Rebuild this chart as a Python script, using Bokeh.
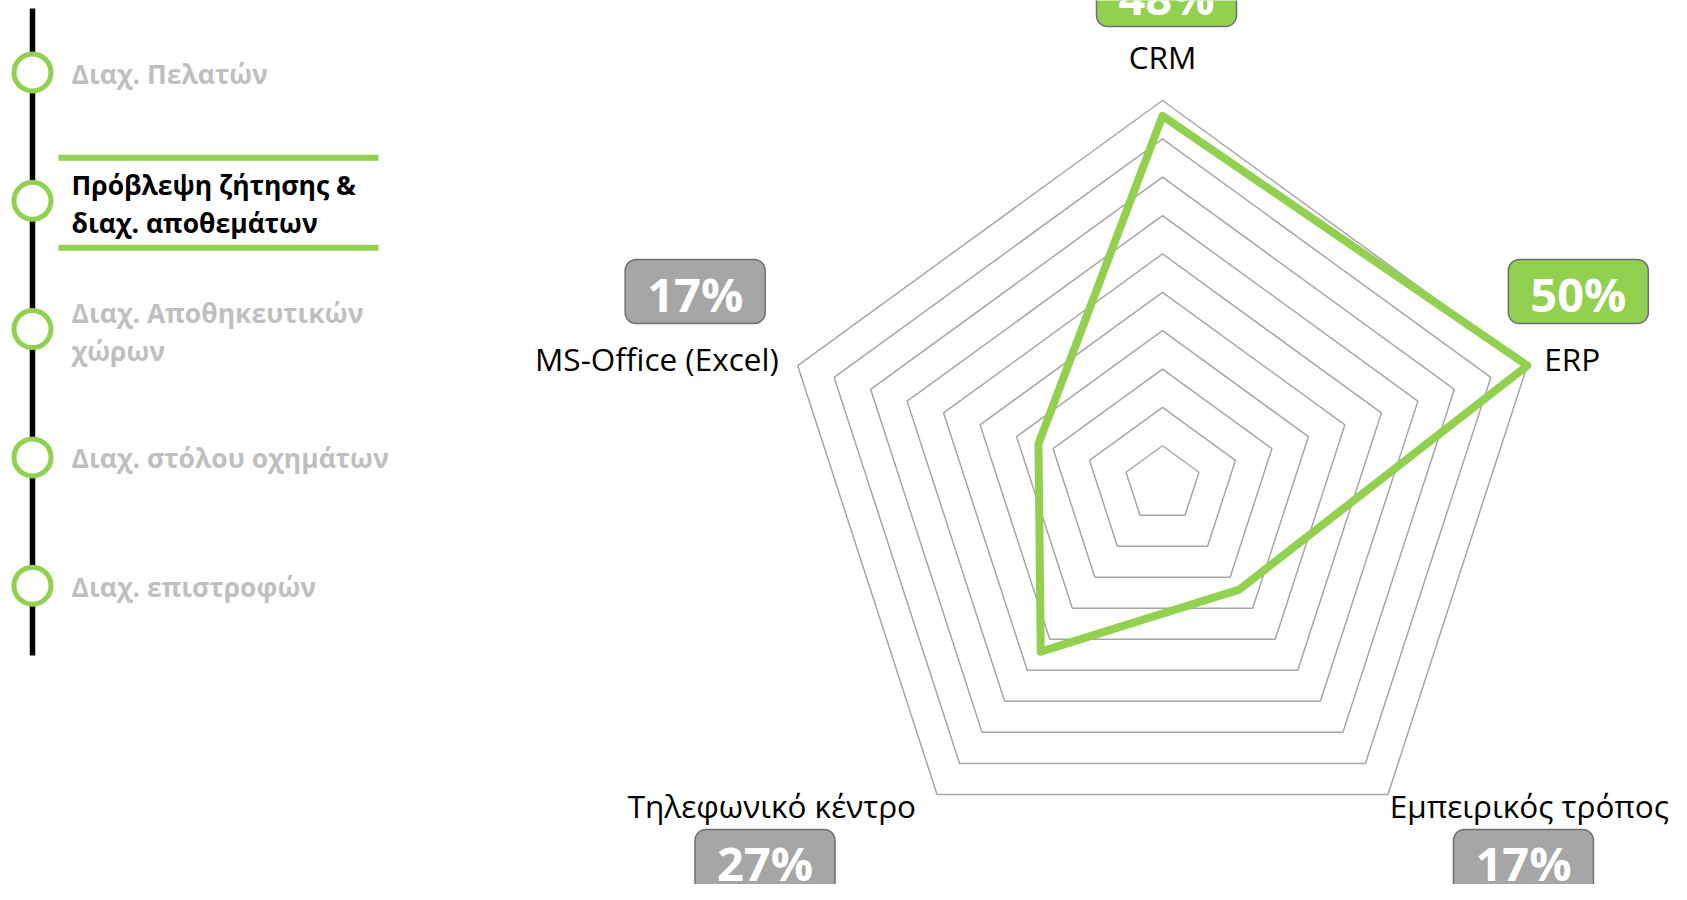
import math
from bokeh.plotting import figure
from bokeh.models import Range1d
from bokeh.core.properties import value
from bokeh.embed import file_html
from bokeh.resources import INLINE

# ---------------- data ----------------
categories = ["CRM", "ERP", "Εμπειρικός τρόπος", "Τηλεφωνικό κέντρο", "MS-Office (Excel)"]
values = [48, 50, 17, 27, 17]
value_labels = ["48%", "50%", "17%", "27%", "17%"]
highlight = [True, True, False, False, False]
grid_levels = [5, 10, 15, 20, 25, 30, 35, 40, 45, 50]
scale_max = 50

menu_items = [
    ["Διαχ. Πελατών"],
    ["Πρόβλεψη ζήτησης &", "διαχ. αποθεμάτων"],
    ["Διαχ. Αποθηκευτικών", "χώρων"],
    ["Διαχ. στόλου οχημάτων"],
    ["Διαχ. επιστροφών"],
]
selected_item = 1

# ---------------- layout / style ----------------
GREEN = "#92d050"
GRAY_FILL = "#a6a6a6"
GRID = "#a6a6a6"
FONT = value("Open Sans")

cx, cy, R = 1162.0, 483.6, 383.6
# label anchor offsets from each vertex, alignment
label_off = [(0, -44, "center"), (17, -7, "left"), (281, 11, "right"), (-21, 11, "right"), (-19, -7, "right")]
# value box centre offsets from each vertex
box_off = [(4, -106), (51, -74), (135.5, 67), (-172, 67), (-102.5, -74)]
BOX_W, BOX_H, BOX_R = 140, 64, 11

menu_x_line = 32
menu_first_y, menu_step = 72, 128.3
menu_text_x = 71

p = figure(width=1671, height=884, x_range=Range1d(0, 1671), y_range=Range1d(884, 0),
           output_backend="svg", toolbar_location=None, min_border=0,
           x_axis_type=None, y_axis_type=None)
p.grid.visible = False
p.outline_line_color = None
p.background_fill_color = "white"
p.border_fill_color = "white"

n = len(categories)
angles = [math.pi / 2 - i * 2 * math.pi / n for i in range(n)]


def polar(r_val, ang):
    r = R * r_val / scale_max
    return cx + r * math.cos(ang), cy - r * math.sin(ang)


# grid rings
gx, gy = [], []
for lv in grid_levels:
    pts = [polar(lv, a) for a in angles]
    gx.append([q[0] for q in pts])
    gy.append([q[1] for q in pts])
p.patches(gx, gy, fill_color=None, line_color=GRID, line_width=1.5)

# data polygon
dp = [polar(v, a) for v, a in zip(values, angles)]
p.patch([q[0] for q in dp], [q[1] for q in dp], fill_color=None, fill_alpha=0,
         line_color=GREEN, line_width=8, line_join="round")

# category labels
outer = [polar(scale_max, a) for a in angles]
for (vx, vy), (dx, dy, al), cat in zip(outer, label_off, categories):
    p.text([vx + dx], [vy + dy], text=[cat], text_font=FONT, text_font_size="31.5px",
           text_color="#000000", text_align=al, text_baseline="middle")


def rounded_rect(xc, yc, w, h, r, k=8):
    xs, ys = [], []
    corners = [(xc + w / 2 - r, yc - h / 2 + r, -90, 0), (xc + w / 2 - r, yc + h / 2 - r, 0, 90),
               (xc - w / 2 + r, yc + h / 2 - r, 90, 180), (xc - w / 2 + r, yc - h / 2 + r, 180, 270)]
    for (ox, oy, a0, a1) in corners:
        for j in range(k + 1):
            t = math.radians(a0 + (a1 - a0) * j / k)
            xs.append(ox + r * math.cos(t))
            ys.append(oy + r * math.sin(t))
    return xs, ys


bx, by, bfill, bline, tx, ty = [], [], [], [], [], []
for (vx, vy), (dx, dy), hl in zip(outer, box_off, highlight):
    xs, ys = rounded_rect(vx + dx, vy + dy, BOX_W, BOX_H, BOX_R)
    bx.append(xs)
    by.append(ys)
    bfill.append(GREEN if hl else GRAY_FILL)
    bline.append("#6f6f6f")
    tx.append(vx + dx)
    ty.append(vy + dy + 2)
p.patches(bx, by, fill_color=bfill, line_color=bline, line_width=1.5)
p.text(tx, ty, text=value_labels, text_font=FONT, text_font_size="47px", text_font_style="bold",
       text_color="white", text_align="center", text_baseline="middle")

# ---------------- left menu ----------------
circle_ys = [menu_first_y + i * menu_step for i in range(len(menu_items))]
p.segment([menu_x_line], [8], [menu_x_line], [655], line_color="black", line_width=5.5)

sel_y = circle_ys[selected_item]
p.segment([58, 58], [sel_y - 43, sel_y + 47], [378, 378], [sel_y - 43, sel_y + 47],
          line_color=GREEN, line_width=6)

p.scatter([menu_x_line] * len(circle_ys), circle_ys, marker="circle", size=37,
          fill_color="white", line_color=GREEN, line_width=5)

for i, (lines, yc) in enumerate(zip(menu_items, circle_ys)):
    col = "#000000" if i == selected_item else "#bfbfbf"
    if len(lines) == 1:
        ys_ = [yc + 1]
    else:
        ys_ = [yc - 16, yc + 22]
    p.text([menu_text_x] * len(lines), ys_, text=lines, text_font=FONT, text_font_size="26.5px",
           text_font_style="bold", text_color=col, text_align="left", text_baseline="middle")

open("out.html", "w").write(file_html(p, INLINE))
